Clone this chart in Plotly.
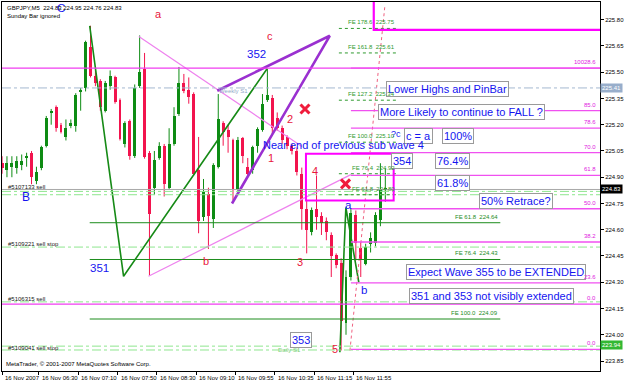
import plotly.graph_objects as go

# ---------------- data ----------------
bar_idx = list(range(-8, 71))
opens = [224.98, 224.94, 224.96, 224.95, 224.97, 225.01, 225.04, 224.88, 224.95, 225.08,
         225.265, 225.30, 225.20, 225.13, 225.19, 225.19, 225.39, 225.41, 225.645, 225.48,
         225.45, 225.28, 225.42, 225.47, 225.34, 225.09, 225.22, 225.02, 225.42, 225.52,
         225.04, 224.84, 225.01, 225.08, 224.84, 225.09, 225.26, 225.44, 225.40, 225.375,
         224.94, 224.67, 224.805, 224.66, 224.96, 225.21, 225.17, 225.11, 224.83, 225.125,
         224.96, 224.94, 225.08, 225.17, 225.34, 225.355, 225.24, 225.18, 225.13, 225.08,
         225.05, 224.92, 224.72, 224.585, 224.72, 224.68, 224.65, 224.57, 224.454, 224.41,
         224.066, 224.33, 224.682, 224.494, 224.407, 224.52, 224.522, 224.653, 224.83]
highs = [225.02, 225.02, 225.02, 225.02, 225.03, 225.04, 225.05, 224.96, 225.08, 225.25,
         225.29, 225.31, 225.21, 225.23, 225.23, 225.38, 225.41, 225.68, 225.765, 225.52,
         225.46, 225.45, 225.51, 225.48, 225.35, 225.22, 225.23, 225.43, 225.71, 225.61,
         225.05, 225.05, 225.10, 225.09, 225.18, 225.30, 225.53, 225.49, 225.47, 225.385,
         225.13, 224.89, 224.84, 224.98, 225.375, 225.22, 225.20, 225.12, 225.13, 225.13,
         225.01, 225.08, 225.185, 225.375, 225.52, 225.37, 225.27, 225.195, 225.14, 225.09,
         225.07, 224.955, 224.77, 224.727, 224.91, 224.70, 224.67, 224.585, 224.465, 224.437,
         224.368, 224.72, 224.71, 224.53, 224.52, 224.585, 224.70, 224.98, 224.95]
lows = [224.92, 224.90, 224.90, 224.92, 224.94, 224.96, 224.86, 224.86, 224.94, 225.07,
        225.20, 225.16, 225.15, 225.11, 225.18, 225.16, 225.28, 225.39, 225.47, 225.42,
        225.28, 225.27, 225.40, 225.32, 225.11, 225.07, 225.00, 225.01, 225.41, 225.006,
        224.34, 224.80, 225.00, 224.79, 224.83, 225.08, 225.25, 225.38, 225.32, 224.91,
        224.58, 224.65, 224.49, 224.61, 224.95, 225.08, 225.04, 224.77, 224.82, 224.98,
        224.91, 224.92, 225.04, 225.16, 225.33, 225.14, 225.165, 225.09, 225.06, 225.03,
        224.91, 224.60, 224.465, 224.568, 224.60, 224.57, 224.54, 224.33, 224.38, 223.91,
        224.00, 224.31, 224.425, 224.33, 224.397, 224.47, 224.505, 224.62, 224.76]
closes = [224.95, 224.98, 224.98, 224.99, 224.99, 225.02, 224.90, 224.93, 225.07, 225.24,
          225.28, 225.18, 225.16, 225.18, 225.21, 225.37, 225.40, 225.67, 225.48, 225.44,
          225.30, 225.44, 225.48, 225.33, 225.12, 225.21, 225.02, 225.41, 225.50, 225.014,
          224.69, 225.00, 225.08, 224.86, 225.09, 225.25, 225.44, 225.39, 225.36, 224.92,
          224.65, 224.815, 224.68, 224.97, 225.23, 225.16, 225.13, 224.83, 225.11, 225.02,
          224.92, 225.07, 225.175, 225.32, 225.37, 225.18, 225.18, 225.11, 225.08, 225.05,
          224.93, 224.72, 224.60, 224.71, 224.67, 224.64, 224.585, 224.45, 224.397, 224.08,
          224.33, 224.693, 224.522, 224.425, 224.501, 224.55, 224.682, 224.83, 224.83]

time_tick_bars = [-7.5, 0, 8, 16, 24, 32, 40, 48, 56, 64]
time_tick_labels = ['16 Nov 2007', '16 Nov 06:30', '16 Nov 07:10', '16 Nov 07:50', '16 Nov 08:30',
                    '16 Nov 09:10', '16 Nov 09:55', '16 Nov 10:35', '16 Nov 11:15', '16 Nov 11:55']
price_ticks = [225.80, 225.65, 225.50, 225.35, 225.20, 225.05, 224.90, 224.75,
               224.60, 224.45, 224.30, 224.15, 224.00, 223.85]

# Fibonacci retracement (pink, from bar 63 to right edge)
fib_start = 63
fib_prices = [223.917, 224.296, 224.53, 224.72, 224.91, 225.04, 225.18, 225.28, 225.523]
fib_labels = ['0.0', '23.6', '38.2', '50.0', '61.8', '70.0', '78.6', '85.0', '10028.6']

# Fibonacci expansions (green)
fe_low_prices = [224.64, 224.43, 224.09]
fe_low_labels = ['FE 61.8  224.64', 'FE 76.4  224.43', 'FE 100.0  224.09']
fe_low_span = [9.84, 93.4]
fe_up_prices = [225.75, 225.61, 225.34, 225.10, 224.92, 224.80]
fe_up_labels = ['FE 178.6  225.75', 'FE 161.8  225.61', 'FE 127.2  225.34',
                'FE 100.0  225.10', 'FE 76.4  224.92', 'FE 61.8  224.80']
fe_up_span = [60.55, 72.7]

# Horizontal order / pivot lines
order_line_prices = [224.819, 224.80, 224.501, 224.188, 223.935, 223.913]
order_labels = ['#5107133 sell', '#5109221 sell stop', '#5106315 sell', '#5109041 sell stop']
order_label_prices = [224.845, 224.521, 224.203, 223.925]
magenta_full_prices = [225.523, 224.175]
weekly_s1 = 225.41
bid_price = 224.83

# Drawn objects (bar, price)
green_wave1_x = [9.84, 16.73, 45.94]
green_wave1_y = [225.765, 224.334, 225.52]
green_wave2_x = [60.75, 61.97, 64.6]
green_wave2_y = [223.90, 224.727, 224.30]
purple_x = [35.8, 58.7, 38.8]
purple_y = [225.394, 225.708, 224.75]
pink1_x = [19.84, 53.04]
pink1_y = [225.704, 225.075]
pink2_x = [21.8, 62.98]
pink2_y = [224.334, 224.915]
pink_dot_x = [62.8, 69.9]
pink_dot_y = [223.91, 225.876]
box_x = [53.85, 71.7]
box_y = [224.767, 225.034]
top_box_x = 67.65
top_box_y = 225.742
x_marks_x = [53.65, 61.9]
x_marks_y = [225.29, 224.862]

red_labels = ['a', 'c', '2', '1', '4', '3', '5', 'b']
red_label_x = [23.8, 46.55, 50.6, 46.75, 55.7, 52.6, 59.7, 33.6]
red_label_y = [225.833, 225.708, 225.234, 225.012, 224.934, 224.416, 223.917, 224.42]
blue_labels = ['B', 'C', '351', '352', 'a', 'b']
blue_label_x = [-3.14, 3.9, 11.87, 43.77, 62.6, 65.6]
blue_label_y = [224.786, 225.865, 224.384, 225.603, 224.739, 224.254]
box_texts = ['353', '354', 'Lower Highs and PinBar', 'More Likely to continue to FALL ?',
             'c = a', '100%', '76.4%', '61.8%', '50% Retrace?',
             'Expect Wave 355 to be EXTENDED', '351 and 353 not visibly extended']
box_text_x = [52.8, 73.4, 82.56, 85.5, 76.7, 84.69, 83.57, 83.57, 96.65, 92.5, 91.58]
box_text_y = [223.97, 224.995, 225.406, 225.274, 225.138, 225.138, 224.995, 224.867,
              224.762, 224.36, 224.223]

# ---------------- figure ----------------
FONT = 'Liberation Sans, Arial, sans-serif'
UP = '#0E8C14'
DN = '#F2144E'
X0, X1 = -8.01, 113.69
Y0, Y1 = 223.793, 225.901

fig = go.Figure()
shapes = []
ann = []

def hline(y, x0, x1, color, width=1, dash='solid', xref='x'):
    shapes.append(dict(type='line', xref=xref, yref='y', x0=x0, x1=x1, y0=y, y1=y,
                       line=dict(color=color, width=width, dash=dash), layer='above'))

# horizontal lines
for p in order_line_prices:
    hline(p, 0, 1, '#8EE68E', 1, 'dashdot', 'paper')
hline(bid_price, 0, 1, '#A8A8A8', 1, 'solid', 'paper')
hline(weekly_s1, 0, 1, '#A4B8D0', 1, 'dashdot', 'paper')
for p in magenta_full_prices:
    hline(p, 0, 1, '#F03CF0', 1.3, 'solid', 'paper')
for p in fib_prices:
    hline(p, fib_start, X1 + 1, '#F050F0', 1.3)
for p in fe_low_prices:
    hline(p, fe_low_span[0], fe_low_span[1], '#1C8C1C', 1)
for p in fe_up_prices:
    hline(p, fe_up_span[0], fe_up_span[1], '#2E9A2E', 1, 'dot')

# rectangles
shapes.append(dict(type='rect', xref='x', yref='y', x0=box_x[0], x1=box_x[1], y0=box_y[0], y1=box_y[1],
                   line=dict(color='#FF00FF', width=2), layer='above'))
shapes.append(dict(type='rect', xref='x', yref='y', x0=top_box_x, x1=X1 + 5, y0=top_box_y, y1=Y1 + 0.3,
                   line=dict(color='#FF00FF', width=2.2), layer='above'))

# candles: wicks
for col, cond in ((UP, lambda o, c: c >= o), (DN, lambda o, c: c < o)):
    wx, wy = [], []
    for i, o, h, l, c in zip(bar_idx, opens, highs, lows, closes):
        if cond(o, c):
            wx += [i, i, None]
            wy += [l, h, None]
    fig.add_trace(go.Scatter(x=wx, y=wy, mode='lines', line=dict(color=col, width=1),
                             hoverinfo='skip', showlegend=False))

# candles: bodies
base = [min(o, c) for o, c in zip(opens, closes)]
hgt = [max(abs(c - o), 0.006) for o, c in zip(opens, closes)]
cols = [UP if c >= o else DN for o, c in zip(opens, closes)]
fig.add_trace(go.Bar(x=bar_idx, y=hgt, base=base, width=0.6, marker=dict(color=cols, line=dict(width=0)),
                     hoverinfo='skip', showlegend=False))

def line_trace(xs, ys, color, width, dash='solid'):
    fig.add_trace(go.Scatter(x=xs, y=ys, mode='lines', line=dict(color=color, width=width, dash=dash),
                             hoverinfo='skip', showlegend=False))

line_trace(pink1_x, pink1_y, '#EE82EE', 1.2)
line_trace(pink2_x, pink2_y, '#EE82EE', 1.2)
line_trace(green_wave1_x, green_wave1_y, '#168A16', 1.6)
line_trace(green_wave2_x, green_wave2_y, '#168A16', 1.6)
line_trace(purple_x, purple_y, '#9A30D0', 2.6)
line_trace(pink_dot_x, pink_dot_y, '#F06080', 1, 'dot')

fig.add_trace(go.Scatter(x=x_marks_x, y=x_marks_y, mode='markers',
                         marker=dict(symbol='x-thin', size=9, line=dict(color='#F01C3C', width=3)),
                         hoverinfo='skip', showlegend=False))

# ---- texts ----
def txt(x, y, s, size, color, xref='x', yref='y', xanchor='center', yanchor='middle', **kw):
    d = dict(x=x, y=y, xref=xref, yref=yref, text=s, showarrow=False, xanchor=xanchor, yanchor=yanchor,
             font=dict(family=FONT, size=size, color=color))
    d.update(kw)
    ann.append(d)

for s, x, y in zip(red_labels, red_label_x, red_label_y):
    txt(x, y, s, 11, '#E8163C')
for s, x, y in zip(blue_labels, blue_label_x, blue_label_y):
    txt(x, y, s, 12 if s in ('B',) else 11.5, '#1414F0')
for s, x, y in zip(box_texts, box_text_x, box_text_y):
    txt(x, y, s, 11, '#1414F0', bgcolor='white', bordercolor='#9A9A9A', borderwidth=1, borderpad=1)
txt(61.56, 225.085, 'Near end of previous sub wave 4', 11, '#1414F0')
txt(72.2, 225.149, '?c', 9, '#1414F0')

# fib labels
for s, p in zip(fib_labels, fib_prices):
    txt(0.996, p, s, 6, '#E020E0', xref='paper', xanchor='right', yanchor='bottom', yshift=1)
txt(0.996, magenta_full_prices[1], '0.0', 6, '#E020E0', xref='paper', xanchor='right', yanchor='bottom', yshift=1)
for s, p in zip(fe_low_labels, fe_low_prices):
    txt(fe_low_span[1], p, s, 6, '#1C8C1C', xanchor='right', yanchor='bottom', yshift=1)
for s, p in zip(fe_up_labels, fe_up_prices):
    txt(fe_up_span[1] - 0.3, p, s, 6, '#2E9A2E', xanchor='right', yanchor='bottom', yshift=1)
for s, p in zip(order_labels, order_label_prices):
    txt(0.006, p, s, 6, '#202020', xref='paper', xanchor='left')
txt(39.2, 225.39, 'Weekly S1', 6, '#92AACA')
txt(50.5, 223.912, 'Daily S1', 6, '#7CCF7C')

# header / footer
txt(0.005, 0.985, 'GBPJPY,M5  224.83 224.95 224.76 224.83', 6, '#000000', xref='paper', yref='paper',
    xanchor='left', yanchor='middle')
txt(0.005, 0.962, 'Sunday Bar ignored', 6, '#000000', xref='paper', yref='paper', xanchor='left', yanchor='middle')
txt(0.003, 0.02, 'MetaTrader, \u00a9 2001-2007 MetaQuotes Software Corp.', 6, '#000000',
    xref='paper', yref='paper', xanchor='left', yanchor='middle')

# time axis labels
for b, s in zip(time_tick_bars, time_tick_labels):
    xb = max(b - 0.5, X0 + 0.05)
    txt(xb, 0, s, 6, '#000000', yref='paper', xanchor='left', yanchor='top', xshift=1, yshift=-2)

# highlighted price boxes on the right axis
txt(1, weekly_s1, '225.41', 6, 'white', xref='paper', xanchor='left', bgcolor='#98AECB', borderpad=1)
txt(1, bid_price, '224.83', 6, 'white', xref='paper', xanchor='left', bgcolor='#000000', borderpad=1)
txt(1, 223.94, '223.94', 6, 'white', xref='paper', xanchor='left', bgcolor='#33B833', borderpad=1)

fig.update_layout(
    width=625, height=380,
    margin=dict(l=2, r=23, t=1, b=9),
    paper_bgcolor='white', plot_bgcolor='white',
    barmode='overlay', bargap=0,
    showlegend=False, hovermode=False,
    shapes=shapes, annotations=ann,
    xaxis=dict(range=[X0, X1], showgrid=False, zeroline=False, showline=True, linecolor='#000000',
               linewidth=1, mirror=True, ticks='outside', ticklen=3, tickcolor='#000000',
               tickvals=[max(b - 0.5, X0 + 0.05) for b in time_tick_bars], showticklabels=False,
               fixedrange=True),
    yaxis=dict(range=[Y0, Y1], side='right', showgrid=False, zeroline=False, showline=True,
               linecolor='#000000', linewidth=1, mirror=True, ticks='outside', ticklen=3,
               tickcolor='#000000', tickvals=price_ticks, ticktext=[f'{p:.2f}' for p in price_ticks],
               tickfont=dict(family=FONT, size=6, color='#000000'), fixedrange=True),
)

fig.write_html('out.html', config={'displayModeBar': False})
